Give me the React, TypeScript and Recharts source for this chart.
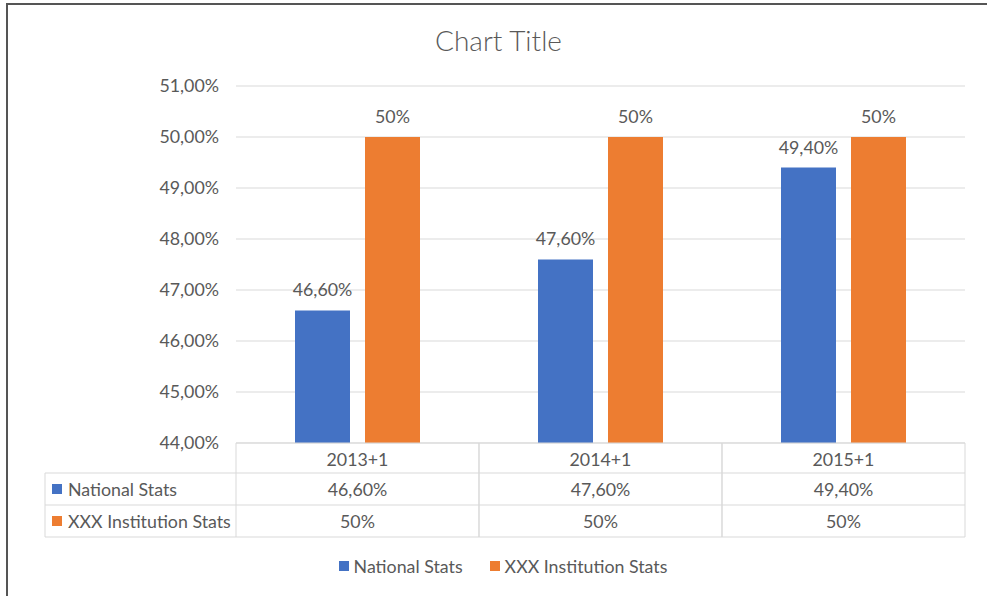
import React from 'react';
import { BarChart, Bar, XAxis, YAxis, CartesianGrid, LabelList } from 'recharts';

const categories = ['2013+1', '2014+1', '2015+1'];
const nationalStats = [46.6, 47.6, 49.4];
const institutionStats = [50, 50, 50];
const yTicks = [44, 45, 46, 47, 48, 49, 50, 51];

const seriesNames = ['National Stats', 'XXX Institution Stats'];
const seriesColors = ['#4472C4', '#ED7D31'];

const FONT = 'Lato, "Open Sans", sans-serif';
const TEXT = '#595959';
const LINE = '#D9D9D9';
const FS = 17.8;

const W = 987;
const H = 596;
const MARGIN = { top: 86, right: 22, left: 136, bottom: 59 };
const Y_AXIS_W = 100;
const X_AXIS_H = 94;
const PLOT_LEFT = MARGIN.left + Y_AXIS_W;
const BAND = (W - MARGIN.right - PLOT_LEFT) / categories.length;
const HEAD_H = 30;
const ROW_H = 32;
const TABLE_LEFT = 45;

const fmtNational = (v: number) => v.toFixed(2).replace('.', ',') + '%';
const fmtInstitution = (v: number) => Math.round(v) + '%';
const fmtAxis = (v: number) => v.toFixed(2).replace('.', ',') + '%';

const formatters = [fmtNational, fmtInstitution];
const seriesValues = [nationalStats, institutionStats];

const data = categories.map((c, i) => ({
  name: c,
  national: nationalStats[i],
  institution: institutionStats[i],
}));

// draws one column of the data table under each category, plus the row header column on the first tick
function TableTick(props: any) {
  const { x, payload, index } = props;
  const top = H - MARGIN.bottom - X_AXIS_H;
  const left = x - BAND / 2;
  const right = x + BAND / 2;
  const bottom = top + HEAD_H + ROW_H * 2;
  return (
    <g>
      <line x1={left} y1={top} x2={left} y2={bottom} stroke={LINE} />
      <line x1={right} y1={top} x2={right} y2={bottom} stroke={LINE} />
      <line x1={left} y1={bottom} x2={right} y2={bottom} stroke={LINE} />
      <text x={x} y={top + HEAD_H / 2 + 1} textAnchor="middle" dominantBaseline="central" fill={TEXT} fontSize={FS} fontFamily={FONT}>
        {payload.value}
      </text>
      {seriesValues.map((vals, s) => (
        <g key={s}>
          <line x1={left} y1={top + HEAD_H + ROW_H * s} x2={right} y2={top + HEAD_H + ROW_H * s} stroke={LINE} />
          <text x={x} y={top + HEAD_H + ROW_H * s + ROW_H / 2} textAnchor="middle" dominantBaseline="central" fill={TEXT} fontSize={FS} fontFamily={FONT}>
            {formatters[s](vals[index])}
          </text>
        </g>
      ))}
      {index === 0 && (
        <g>
          <line x1={TABLE_LEFT} y1={top + HEAD_H} x2={TABLE_LEFT} y2={bottom} stroke={LINE} />
          <line x1={TABLE_LEFT} y1={bottom} x2={left} y2={bottom} stroke={LINE} />
          {seriesNames.map((n, s) => {
            const ry = top + HEAD_H + ROW_H * s;
            return (
              <g key={n}>
                <line x1={TABLE_LEFT} y1={ry} x2={left} y2={ry} stroke={LINE} />
                <rect x={TABLE_LEFT + 7} y={ry + ROW_H / 2 - 5} width={10} height={10} fill={seriesColors[s]} />
                <text x={TABLE_LEFT + 23} y={ry + ROW_H / 2} dominantBaseline="central" fill={TEXT} fontSize={FS} fontFamily={FONT}>
                  {n}
                </text>
              </g>
            );
          })}
        </g>
      )}
    </g>
  );
}

export default function App() {
  return (
    <div style={{ position: 'absolute', left: 0, top: 0, width: W, height: H, overflow: 'hidden', background: '#fff', fontFamily: FONT }}>
      <div style={{ position: 'absolute', left: 6, top: 3, width: 1100, height: 800, border: '2px solid #555', boxSizing: 'border-box' }} />
      <div style={{ position: 'absolute', left: 0, width: 997, top: 23, textAlign: 'center', fontSize: 28, fontWeight: 300, color: TEXT }}>
        Chart Title
      </div>
      <div style={{ position: 'absolute', left: 0, top: 0 }}>
        <BarChart width={W} height={H} data={data} margin={MARGIN} barSize={55} barGap={15}>
          <CartesianGrid vertical={false} stroke={LINE} />
          <XAxis
            dataKey="name"
            height={X_AXIS_H}
            axisLine={{ stroke: LINE }}
            tickLine={false}
            tick={<TableTick />}
            interval={0}
          />
          <YAxis
            width={Y_AXIS_W}
            domain={[44, 51]}
            ticks={yTicks}
            tickFormatter={fmtAxis}
            axisLine={false}
            tickLine={false}
            tickSize={0}
            tickMargin={17}
            tick={{ fill: TEXT, fontSize: FS, fontFamily: FONT }}
          />
          <Bar dataKey="national" fill={seriesColors[0]} isAnimationActive={false}>
            <LabelList dataKey="national" position="top" offset={14} formatter={(v: any) => fmtNational(Number(v))} fill={TEXT} fontSize={FS} fontFamily={FONT} />
          </Bar>
          <Bar dataKey="institution" fill={seriesColors[1]} isAnimationActive={false}>
            <LabelList dataKey="institution" position="top" offset={14} formatter={(v: any) => fmtInstitution(Number(v))} fill={TEXT} fontSize={FS} fontFamily={FONT} />
          </Bar>
        </BarChart>
      </div>
      <div style={{ position: 'absolute', left: 0, width: 1006, top: 555, display: 'flex', justifyContent: 'center', gap: 27, fontSize: FS, color: TEXT }}>
        {seriesNames.map((n, s) => (
          <div key={n} style={{ display: 'flex', alignItems: 'center', gap: 5 }}>
            <span style={{ display: 'inline-block', width: 10, height: 10, background: seriesColors[s] }} />
            <span>{n}</span>
          </div>
        ))}
      </div>
    </div>
  );
}
